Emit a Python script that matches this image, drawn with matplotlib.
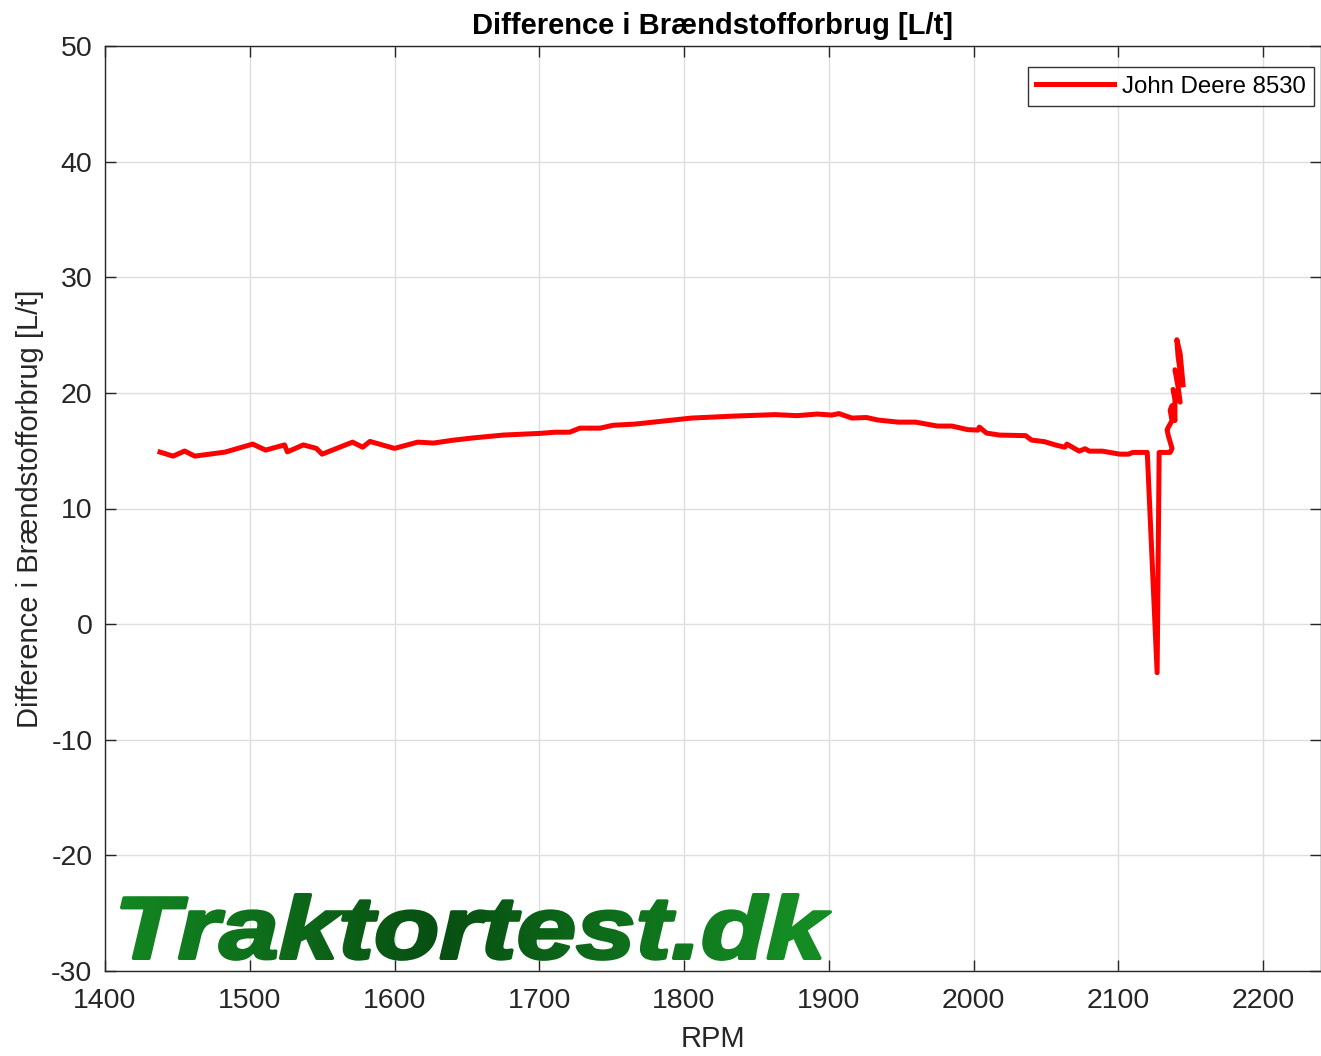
import numpy as np
import matplotlib
matplotlib.use("Agg")
import matplotlib.pyplot as plt
from matplotlib.textpath import TextPath
from matplotlib.patches import PathPatch
from matplotlib.font_manager import FontProperties
from matplotlib.transforms import Affine2D

# ---- data ----
rpm = [1438, 1447, 1455, 1462, 1483, 1502, 1511, 1524, 1526, 1537, 1546, 1550,
       1571, 1578, 1583, 1600, 1616, 1627, 1640, 1654, 1675, 1701, 1711, 1721,
       1728, 1742, 1751, 1766, 1805, 1834, 1863, 1878, 1892, 1902, 1907, 1916,
       1926, 1934, 1948, 1960, 1975, 1985, 1996, 2003, 2004, 2009, 2018, 2036,
       2040, 2049, 2057, 2063, 2064.5, 2073, 2077, 2080, 2089, 2101, 2107, 2110,
       2120, 2126.8, 2128.2, 2135.8, 2137.1, 2134.4, 2133.7, 2134.4, 2137.1,
       2135.8, 2137.1, 2139.1, 2139.1, 2137.8, 2142.7, 2141.3, 2139.1, 2144.1,
       2141.3, 2140.4, 2142.7, 2144.7]
diff = [14.88, 14.53, 14.97, 14.53, 14.88, 15.57, 15.05, 15.5, 14.9, 15.5, 15.2, 14.7,
        15.74, 15.3, 15.8, 15.2, 15.74, 15.66, 15.9, 16.1, 16.35, 16.5, 16.6, 16.6,
        16.95, 16.95, 17.2, 17.3, 17.82, 17.99, 18.12, 18.03, 18.17, 18.08, 18.21, 17.82,
        17.87, 17.65, 17.47, 17.47, 17.13, 17.13, 16.82, 16.78, 17.04, 16.52, 16.35, 16.3,
        15.92, 15.78, 15.48, 15.3, 15.57, 14.96, 15.17, 14.96, 14.96, 14.7, 14.7, 14.85,
        14.85, -4.2, 14.85, 14.85, 15.2, 16.35, 16.8, 17.0, 17.6,
        18.5, 18.9, 17.6, 19.4, 20.3, 19.2, 20.5, 22.0, 20.7,
        23.1, 24.6, 23.4, 20.7]

series_label = "John Deere 8530"
title_text = "Difference i Brændstofforbrug [L/t]"
xlabel_text = "RPM"
ylabel_text = "Difference i Brændstofforbrug [L/t]"
xticks = [1400, 1500, 1600, 1700, 1800, 1900, 2000, 2100, 2200]
yticks = [-30, -20, -10, 0, 10, 20, 30, 40, 50]
logo_text = "Traktortest.dk"

# ---- figure ----
W, H = 1321, 1056
plt.rcParams['font.family'] = ['Liberation Sans', 'DejaVu Sans']
plt.rcParams['axes.unicode_minus'] = False
fig = plt.figure(figsize=(W / 100, H / 100), dpi=100)
ax = fig.add_axes([105 / W, 1 - 971 / H, (1321 - 105) / W, (971 - 46) / H])

txtc = '#262626'
ax.plot(rpm, diff, color='#ff0000', lw=3.6, label=series_label, zorder=3,
        solid_joinstyle='round')
ax.set_xlim(1400, 2240)
ax.set_ylim(-30, 50)
ax.set_xticks(xticks)
ax.set_yticks(yticks)
ax.grid(True, color='#dedede', lw=1.0)
ax.set_axisbelow(True)
for s in ax.spines.values():
    s.set_color(txtc)
    s.set_linewidth(1.0)
ax.tick_params(direction='in', length=8, width=1.0, colors=txtc, labelsize=20.5,
               top=True, right=True)
ax.tick_params(axis='x', pad=12)
ax.tick_params(axis='y', pad=9)
ax.set_title(title_text, fontsize=21, fontweight='bold', color='black', pad=9)
ax.set_xlabel(xlabel_text, fontsize=21, color=txtc, labelpad=8)
ax.set_ylabel(ylabel_text, fontsize=21, color=txtc, labelpad=5)

leg = ax.legend(loc='upper right', fontsize=17.3, frameon=True, fancybox=False,
                handlelength=3.25, borderpad=0.35, handletextpad=0.3,
                borderaxespad=0, bbox_to_anchor=(0.9942, 0.977))
leg.get_frame().set_edgecolor('black')
leg.get_frame().set_linewidth(1.0)

# ---- logo: bold italic text with horizontal green gradient ----
x0, x1 = 120, 832
ytop_px, ybase_px = 893, 960
stroke = 2.5  # points, thickens the glyphs
pad = 12
gw = x1 - x0 + 2 * pad
gh = ybase_px - ytop_px + 2 * pad

fp = FontProperties(family='Liberation Sans', weight='bold', style='italic')
tp = TextPath((0, 0), logo_text, size=100, prop=fp)
bb = tp.get_extents()
grow = stroke * 100 / 72 / 2
sx = (gw - 2 * pad - 2 * grow) / bb.width
sy = (gh - 2 * pad - 2 * grow) / bb.y1
tr = Affine2D().translate(-bb.x0, 0).scale(sx, sy).translate(pad + grow, pad + grow)
path = tr.transform_path(tp)

mfig = plt.figure(figsize=(gw / 100, gh / 100), dpi=100)
max_ = mfig.add_axes([0, 0, 1, 1])
max_.set_xlim(0, gw)
max_.set_ylim(0, gh)
max_.axis('off')
max_.add_patch(PathPatch(path, facecolor='black', edgecolor='black',
                         lw=stroke, joinstyle='round'))
mfig.canvas.draw()
buf = np.asarray(mfig.canvas.buffer_rgba()).astype(float) / 255.0
plt.close(mfig)
mask = 1.0 - buf[:, :, 0]

t = np.linspace(0, 1, buf.shape[1])
c_edge = np.array([0.08, 0.55, 0.14])
c_mid = np.array([0.03, 0.31, 0.07])
w = np.clip(1 - np.abs(t - 0.45) * 2.1, 0, 1)
cols = c_edge[None, :] * (1 - w[:, None]) + c_mid[None, :] * w[:, None]
rgba = np.zeros((buf.shape[0], buf.shape[1], 4))
rgba[:, :, :3] = cols[None, :, :]
rgba[:, :, 3] = mask
fig.figimage(rgba, xo=x0 - pad, yo=H - ybase_px - pad, origin='upper', zorder=6)

fig.savefig('out.png', dpi=100)
